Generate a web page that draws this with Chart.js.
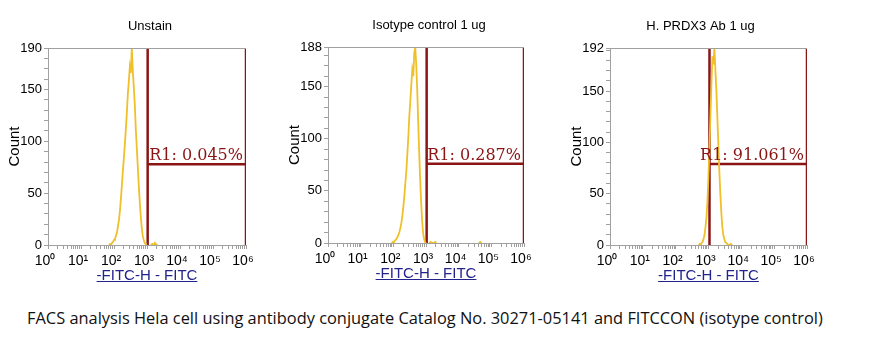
<!DOCTYPE html>
<html>
<head>
<meta charset="utf-8">
<script src="https://cdn.jsdelivr.net/npm/chart.js@4.4.0/dist/chart.umd.min.js"></script>
<style>
    body { margin: 0; background: #fff; width: 892px; height: 346px; position: relative; overflow: hidden; }
    canvas { position: absolute; }
    #caption { position: absolute; left: 27px; top: 306px; font: 16.4px "Open Sans", sans-serif; color: #111; white-space: nowrap; }
</style>
</head>
<body>
<canvas id="c0" width="300" height="290" style="left:0px;top:0px"></canvas>
<canvas id="c1" width="298" height="289" style="left:280px;top:-1px"></canvas>
<canvas id="c2" width="276" height="290" style="left:562px;top:0px"></canvas>
<div id="caption">FACS analysis Hela cell using antibody conjugate Catalog No. 30271-05141 and FITCCON (isotype control)</div>

<script>
// Panel titles and gate labels
const titles = ['Unstain', 'Isotype control 1 ug', 'H. PRDX3 Ab 1 ug'];
const gateLabels = ['R1: 0.045%', 'R1: 0.287%', 'R1: 91.061%'];
const yMax = [190, 188, 192];

// Gate R1 (x in decades of FITC, y in counts)
const gateLow = [3.02, 3.02, 3.03];
const gateHigh = [6, 6, 6];
const gateCount = [78, 76, 79];

// x tick labels (one per decade)
const decadeLabels = ['10⁰', '10¹', '10²', '10³', '10⁴', '10⁵', '10⁶'];

// Histograms: position in decades (log10 FITC) and count; null = gap (no events)
const unstainLog = [1.85, 1.88, 1.91, 1.94, 1.97, 2.00, 2.03, 2.06, 2.09, 2.12, 2.15, 2.18, 2.21, 2.24, 2.27, 2.30, 2.33, 2.36, 2.39, 2.42, 2.45, 2.48, 2.51, 2.54, 2.57, 2.60, 2.63, 2.66, 2.69, 2.72, 2.75, 2.78, 2.81, 2.84, 2.87, 2.90, 2.93, 2.96, 2.99, 3.08, 3.12, 3.16, 3.20, 3.24, 3.27, 3.31];
const unstainCount = [0, 1, 0, 2, 3, 5, 6, 9, 12, 18, 24, 33, 45, 58, 72, 84, 98, 112, 128, 146, 158, 172, 166, 190, 168, 152, 136, 112, 94, 76, 58, 42, 28, 17, 9, 5, 2, 1, 0, null, 0, 1, 0, 2, 0, 1];

const isotypeLog = [1.95, 1.98, 2.01, 2.04, 2.07, 2.10, 2.13, 2.16, 2.19, 2.22, 2.25, 2.28, 2.31, 2.34, 2.37, 2.40, 2.43, 2.46, 2.49, 2.52, 2.55, 2.58, 2.61, 2.64, 2.67, 2.70, 2.73, 2.76, 2.79, 2.82, 2.85, 2.88, 2.91, 2.94, 2.97, 3.00, 3.04, 3.10, 3.14, 3.18, 3.24, 3.28, 3.32, 4.00, 4.62, 4.66, 4.70];
const isotypeCount = [0, 1, 0, 2, 3, 4, 6, 8, 11, 15, 20, 27, 36, 46, 58, 70, 86, 102, 122, 136, 152, 166, 160, 182, 188, 172, 148, 118, 88, 62, 40, 22, 10, 4, 1, 0, null, 0, 1, 0, 0, 1, 0, null, 0, 1, 0];

const prdx3Log = [2.70, 2.73, 2.76, 2.79, 2.82, 2.85, 2.88, 2.91, 2.94, 2.97, 3.00, 3.03, 3.06, 3.09, 3.12, 3.15, 3.18, 3.21, 3.24, 3.27, 3.30, 3.33, 3.36, 3.39, 3.42, 3.45, 3.48, 3.51, 3.54, 3.57, 3.60, 3.64, 3.68, 3.72];
const prdx3Count = [0, 1, 0, 2, 3, 6, 10, 18, 28, 44, 68, 96, 128, 158, 184, 176, 192, 170, 150, 124, 98, 72, 50, 32, 18, 10, 6, 3, 2, 1, 0, 0, 1, 0];

const histLogs = [unstainLog, isotypeLog, prdx3Log];
const histCounts = [unstainCount, isotypeCount, prdx3Count];

// Layout per canvas (right padding so the plot box lines up, title shift from plot centre)
const padRight = [54, 54, 31];
const titleShift = [3, 3, -8];

const axisGray = '#a0a0a0';
const gateColor = '#8a1515';
const histColor = 'rgb(240,192,40)';

// log-decade tick positions: 1..9 inside each decade
const xTickValues = [];
for (let d = 0; d < 6; d++) {
    for (let k = 1; k <= 9; k++) xTickValues.push(d + Math.log10(k));
}
xTickValues.push(6);

// Extra drawing: panel title, top border, gate label, underlined x title
const facsExtras = {
    id: 'facsExtras',
    afterDatasetsDraw(chart, args, opts) {
        const ctx = chart.ctx;
        const area = chart.chartArea;
        const xs = chart.scales.x, ys = chart.scales.y;
        const cx = (area.left + area.right) / 2;
        ctx.save();

        // title
        ctx.font = '13px "Liberation Sans"';
        ctx.fillStyle = '#000';
        ctx.textAlign = 'center';
        ctx.textBaseline = 'middle';
        ctx.fillText(opts.title, cx + opts.shift, area.top - 22);

        ctx.strokeStyle = axisGray;
        ctx.lineWidth = 1;
        ctx.beginPath();
        ctx.moveTo(area.left, Math.round(area.top) + 0.5);
        ctx.lineTo(area.right, Math.round(area.top) + 0.5);
        ctx.stroke();

        // gate label
        ctx.font = '16px "DejaVu Serif"';
        ctx.fillStyle = gateColor;
        ctx.textAlign = 'right';
        ctx.textBaseline = 'alphabetic';
        ctx.fillText(opts.label, xs.getPixelForValue(opts.high) - 3, ys.getPixelForValue(opts.count) - 4);

        // x axis title, underlined
        const ty = area.bottom + 35;
        ctx.font = '15px "Liberation Sans"';
        ctx.fillStyle = '#23238c';
        ctx.textAlign = 'center';
        ctx.fillText('-FITC-H - FITC', cx, ty);
        const w = ctx.measureText('-FITC-H - FITC').width;
        ctx.strokeStyle = '#23238c';
        ctx.beginPath();
        ctx.moveTo(cx - w / 2, ty + 1.5);
        ctx.lineTo(cx + w / 2, ty + 1.5);
        ctx.stroke();
        ctx.restore();
    }
};

function makeChart(i) {
    const ctx = document.getElementById('c' + i).getContext('2d');
    const hist = histLogs[i].map((x, j) => ({ x: x, y: histCounts[i][j] }));
    const lo = gateLow[i], hi = gateHigh[i], top = yMax[i], gc = gateCount[i];

    const gateStyle = { borderColor: gateColor, borderWidth: 2.5, pointRadius: 0, fill: false };

    new Chart(ctx, {
        type: 'line',
        data: {
            datasets: [
                { data: hist, borderColor: histColor, borderWidth: 1.8, pointRadius: 0, fill: false, tension: 0, spanGaps: false },
                Object.assign({ data: [{ x: lo, y: 0 }, { x: lo, y: top }] }, gateStyle),
                Object.assign({ data: [{ x: hi, y: 0 }, { x: hi, y: top }] }, gateStyle),
                Object.assign({ data: [{ x: lo, y: gc }, { x: hi, y: gc }] }, gateStyle)
            ]
        },
        options: {
            responsive: false,
            animation: false,
            devicePixelRatio: 1,
            layout: { padding: { left: 0, right: padRight[i], top: 48, bottom: 0 } },
            plugins: {
                legend: { display: false },
                tooltip: { enabled: false },
                title: { display: false },
                facsExtras: { title: titles[i], shift: titleShift[i], label: gateLabels[i], high: hi, count: gc }
            },
            scales: {
                x: {
                    type: 'linear',
                    min: 0,
                    max: 6,
                    afterBuildTicks: scale => { scale.ticks = xTickValues.map(v => ({ value: v })); },
                    afterFit: scale => { scale.height = 45; },
                    ticks: {
                        autoSkip: false,
                        maxRotation: 0,
                        padding: 4,
                        labelOffset: -3,
                        color: '#000',
                        font: { family: 'Liberation Sans', size: 14 },
                        callback: v => Number.isInteger(v) ? decadeLabels[v] : ''
                    },
                    grid: { drawOnChartArea: false, tickLength: 4, tickColor: axisGray },
                    border: { color: axisGray }
                },
                y: {
                    type: 'linear',
                    min: 0,
                    max: top,
                    afterBuildTicks: scale => {
                        const t = [];
                        for (let v = 0; v < top; v += 10) t.push({ value: v });
                        t.push({ value: top });
                        scale.ticks = t;
                    },
                    afterFit: scale => { scale.width = 48; },
                    ticks: {
                        autoSkip: false,
                        padding: 2,
                        color: '#000',
                        font: { family: 'Liberation Sans', size: 13 },
                        callback: v => (v % 50 === 0 || v === top) ? String(v) : ''
                    },
                    grid: { drawOnChartArea: false, tickLength: 4, tickColor: axisGray },
                    border: { color: axisGray },
                    title: {
                        display: true,
                        text: 'Count',
                        color: '#000',
                        font: { family: 'Liberation Sans', size: 15 },
                        padding: { top: 6, bottom: 0 }
                    }
                }
            }
        },
        plugins: [facsExtras]
    });
}

[0, 1, 2].forEach(makeChart);
</script>
</body>
</html>
